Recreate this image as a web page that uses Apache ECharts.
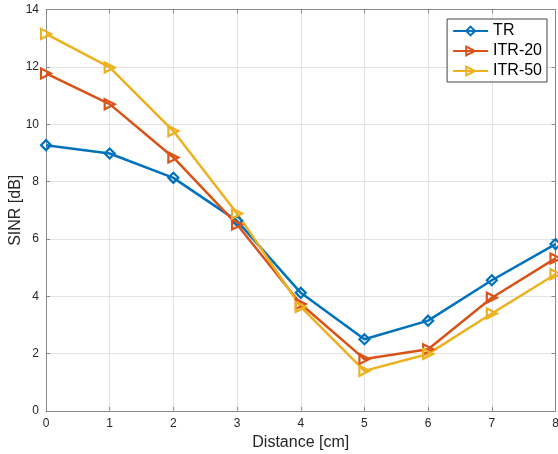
<!DOCTYPE html>
<html>
<head>
<meta charset="utf-8">
<script src="https://cdn.jsdelivr.net/npm/echarts@6/dist/echarts.min.js"></script>
<style>
  html, body { margin: 0; padding: 0; background: #fff; }
  #chart { width: 558px; height: 454px; }
</style>
</head>
<body>
<div id="chart"></div>
<script>
// Distance from the source (cm)
const distance = [0, 1, 2, 3, 4, 5, 6, 7, 8];

// SINR (dB) for each scheme
const sinrTR    = [9.27, 8.98, 8.13, 6.63, 4.12, 2.50, 3.15, 4.56, 5.82];
const sinrITR20 = [11.77, 10.70, 8.84, 6.50, 3.73, 1.81, 2.15, 3.95, 5.32];
const sinrITR50 = [13.15, 11.98, 9.76, 6.89, 3.63, 1.40, 1.99, 3.40, 4.77];

const seriesNames = ['TR', 'ITR-20', 'ITR-50'];
const colors = ['#0072BD', '#D95319', '#EDB120'];

const FONT = '"Liberation Sans", Arial, Helvetica, sans-serif';
const AXIS_GRAY = '#8a8a8a';
const TEXT_GRAY = '#262626';
const triangleRight = 'path://M0,0 L10,5 L0,10 Z';

function pairs(ys) {
  return distance.map((x, i) => [x, ys[i]]);
}

function makeSeries(name, ys, color, symbol, size) {
  return {
    name: name,
    type: 'line',
    data: pairs(ys),
    symbol: symbol,
    symbolSize: size,
    showAllSymbol: true,
    lineStyle: { color: color, width: 2.5 },
    itemStyle: { color: 'rgba(255,255,255,0)', borderColor: color, borderWidth: 2.2 },
    emphasis: { disabled: true },
    z: 3
  };
}

const hiddenAxisCommon = {
  axisLabel: { show: false },
  splitLine: { show: false },
  axisLine: { show: true, onZero: false, lineStyle: { color: AXIS_GRAY, width: 1 } },
  axisTick: { show: true, inside: true, length: 4, lineStyle: { color: AXIS_GRAY } }
};

const chart = echarts.init(document.getElementById('chart'), null, { renderer: 'canvas' });

chart.setOption({
  animation: false,
  backgroundColor: '#ffffff',
  textStyle: { fontFamily: FONT },
  grid: {
    left: 46, right: 2.5, top: 9.5, bottom: 43,
    containLabel: false,
    outerBoundsMode: 'none'
  },
  legend: {
    orient: 'vertical',
    right: 11,
    top: 19,
    padding: [4, 5, 3, 5],
    itemWidth: 35,
    itemHeight: 11,
    itemGap: 4,
    backgroundColor: '#ffffff',
    borderColor: '#444444',
    borderWidth: 1,
    borderRadius: 0,
    data: seriesNames,
    textStyle: { fontSize: 16, color: '#000000', fontFamily: FONT, lineHeight: 16 }
  },
  xAxis: [
    {
      type: 'value',
      min: 0,
      max: 8,
      interval: 1,
      name: 'Distance [cm]',
      nameLocation: 'middle',
      nameGap: 24,
      nameMoveOverlap: false,
      nameTextStyle: { fontSize: 16, color: TEXT_GRAY, fontFamily: FONT },
      axisLabel: { fontSize: 12, color: TEXT_GRAY, margin: 7, fontFamily: FONT },
      axisLine: { show: true, onZero: false, lineStyle: { color: AXIS_GRAY, width: 1 } },
      axisTick: { show: true, inside: true, length: 4, lineStyle: { color: AXIS_GRAY } },
      splitLine: { show: true, lineStyle: { color: '#e3e3e3', width: 1 } }
    },
    Object.assign({ type: 'value', min: 0, max: 8, interval: 1, position: 'top' }, hiddenAxisCommon)
  ],
  yAxis: [
    {
      type: 'value',
      min: 0,
      max: 14,
      interval: 2,
      name: 'SINR [dB]',
      nameLocation: 'middle',
      nameGap: 22,
      nameMoveOverlap: false,
      nameTextStyle: { fontSize: 16, color: TEXT_GRAY, fontFamily: FONT },
      axisLabel: { fontSize: 12, color: TEXT_GRAY, margin: 7, fontFamily: FONT },
      axisLine: { show: true, onZero: false, lineStyle: { color: AXIS_GRAY, width: 1 } },
      axisTick: { show: true, inside: true, length: 4, lineStyle: { color: AXIS_GRAY } },
      splitLine: { show: true, lineStyle: { color: '#e3e3e3', width: 1 } }
    },
    Object.assign({ type: 'value', min: 0, max: 14, interval: 2, position: 'right' }, hiddenAxisCommon)
  ],
  series: [
    makeSeries(seriesNames[0], sinrTR, colors[0], 'diamond', 10),
    makeSeries(seriesNames[1], sinrITR20, colors[1], triangleRight, 10),
    makeSeries(seriesNames[2], sinrITR50, colors[2], triangleRight, 10)
  ]
});
</script>
</body>
</html>
